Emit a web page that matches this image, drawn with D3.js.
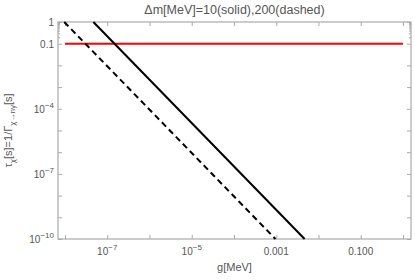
<!DOCTYPE html>
<html>
<head>
<meta charset="utf-8">
<script src="https://cdn.jsdelivr.net/npm/d3@7"></script>
<style>
  body { margin: 0; background: #fff; }
  text { font-family: "Liberation Sans", Arial, sans-serif; fill: #555; }
</style>
</head>
<body>
<script>
// values
const xTicks = [1e-8, 1e-7, 1e-6, 1e-5, 1e-4, 1e-3, 1e-2, 1e-1, 1];
const xLabelVals = [1e-7, 1e-5, 1e-3, 1e-1];
const xLabelText = [["10", "\u22127"], ["10", "\u22125"], ["0.001"], ["0.100"]];

const yTicks = [1e-10, 1e-9, 1e-8, 1e-7, 1e-6, 1e-5, 1e-4, 1e-3, 1e-2, 1e-1, 1];
const yMinor = [0.2, 0.3, 0.4, 0.5, 0.6, 0.7, 0.8, 0.9];
const yLabelVals = [1, 0.1, 1e-4, 1e-7, 1e-10];
const yLabelText = [["1"], ["0.1"], ["10", "\u22124"], ["10", "\u22127"], ["10", "\u221210"]];

// tau vs g lines (straight in log-log)
const solidG = [4.7e-8, 4.7e-3];
const solidTau = [1, 1e-10];
const dashedG = [9.6e-9, 9.6e-4];
const dashedTau = [1, 1e-10];
const redG = [1e-8, 1];
const redTau = [0.1, 0.1];

const W = 415, H = 280;
const mLeft = 58, mRight = 411, mTop = 22, mBottom = 239;

const svg = d3.select("body").append("svg")
  .attr("width", W).attr("height", H);

const x = d3.scaleLog().domain([Math.pow(10, -8.165), Math.pow(10, 0.19)]).range([mLeft, mRight]);
const y = d3.scaleLog().domain([1e-10, 1]).range([mBottom, mTop]);

const frameColor = "#aaa";

// axes with inward ticks
function styleAxis(g) {
  g.select(".domain").remove();
  g.selectAll(".tick line").attr("stroke", frameColor);
  g.selectAll(".tick text").remove();
}

svg.append("g").attr("transform", `translate(0,${mBottom})`)
  .call(d3.axisBottom(x).tickValues(xTicks).tickSize(-4)).call(styleAxis);
svg.append("g").attr("transform", `translate(0,${mTop})`)
  .call(d3.axisTop(x).tickValues(xTicks).tickSize(-4)).call(styleAxis);
svg.append("g").attr("transform", `translate(${mLeft},0)`)
  .call(d3.axisLeft(y).tickValues(yTicks).tickSize(-4)).call(styleAxis);
svg.append("g").attr("transform", `translate(${mRight},0)`)
  .call(d3.axisRight(y).tickValues(yTicks).tickSize(-4)).call(styleAxis);
svg.append("g").attr("transform", `translate(${mLeft},0)`)
  .call(d3.axisLeft(y).tickValues(yMinor).tickSize(-2)).call(styleAxis);
svg.append("g").attr("transform", `translate(${mRight},0)`)
  .call(d3.axisRight(y).tickValues(yMinor).tickSize(-2)).call(styleAxis);

// frame
svg.append("rect")
  .attr("x", mLeft).attr("y", mTop)
  .attr("width", mRight - mLeft).attr("height", mBottom - mTop)
  .attr("fill", "none").attr("stroke", frameColor).attr("stroke-width", 1.2);

// tick labels
function addLabel(t, parts) {
  t.append("tspan").text(parts[0]);
  if (parts.length > 1) {
    t.append("tspan").attr("dy", -5).attr("font-size", 8).text(parts[1]);
  }
}
xLabelVals.forEach((v, i) => {
  const t = svg.append("text").attr("x", x(v)).attr("y", mBottom + 16)
    .attr("text-anchor", "middle").attr("font-size", 10);
  addLabel(t, xLabelText[i]);
});
yLabelVals.forEach((v, i) => {
  const t = svg.append("text").attr("x", mLeft - 4).attr("y", y(v) + 4)
    .attr("text-anchor", "end").attr("font-size", 10);
  addLabel(t, yLabelText[i]);
});

// lines
const line = d3.line().x(d => x(d[0])).y(d => y(d[1]));

svg.append("path")
  .datum(redG.map((g, i) => [g, redTau[i]]))
  .attr("d", line).attr("fill", "none")
  .attr("stroke", "#f00").attr("stroke-width", 2);

svg.append("path")
  .datum(dashedG.map((g, i) => [g, dashedTau[i]]))
  .attr("d", line).attr("fill", "none")
  .attr("stroke", "#000").attr("stroke-width", 2)
  .attr("stroke-dasharray", "6,4");

svg.append("path")
  .datum(solidG.map((g, i) => [g, solidTau[i]]))
  .attr("d", line).attr("fill", "none")
  .attr("stroke", "#000").attr("stroke-width", 2);

// title
svg.append("text").attr("x", (mLeft + mRight) / 2).attr("y", 14)
  .attr("text-anchor", "middle").attr("font-size", 12.5)
  .text("\u0394m[MeV]=10(solid),200(dashed)");

// x label
svg.append("text").attr("x", (mLeft + mRight) / 2).attr("y", 271)
  .attr("text-anchor", "middle").attr("font-size", 11)
  .text("g[MeV]");

// y label
const yl = svg.append("text")
  .attr("transform", `translate(12,${(mTop + mBottom) / 2}) rotate(-90)`)
  .attr("text-anchor", "middle").attr("font-size", 11);
yl.append("tspan").text("\u03c4");
yl.append("tspan").attr("dy", 3).attr("font-size", 8).text("\u03c7");
yl.append("tspan").attr("dy", -3).text("[s]=1/\u0393");
yl.append("tspan").attr("dy", 3).attr("font-size", 8).text("\u03c7\u2192n\u03b3");
yl.append("tspan").attr("dy", -3).text("[s]");
</script>
</body>
</html>
